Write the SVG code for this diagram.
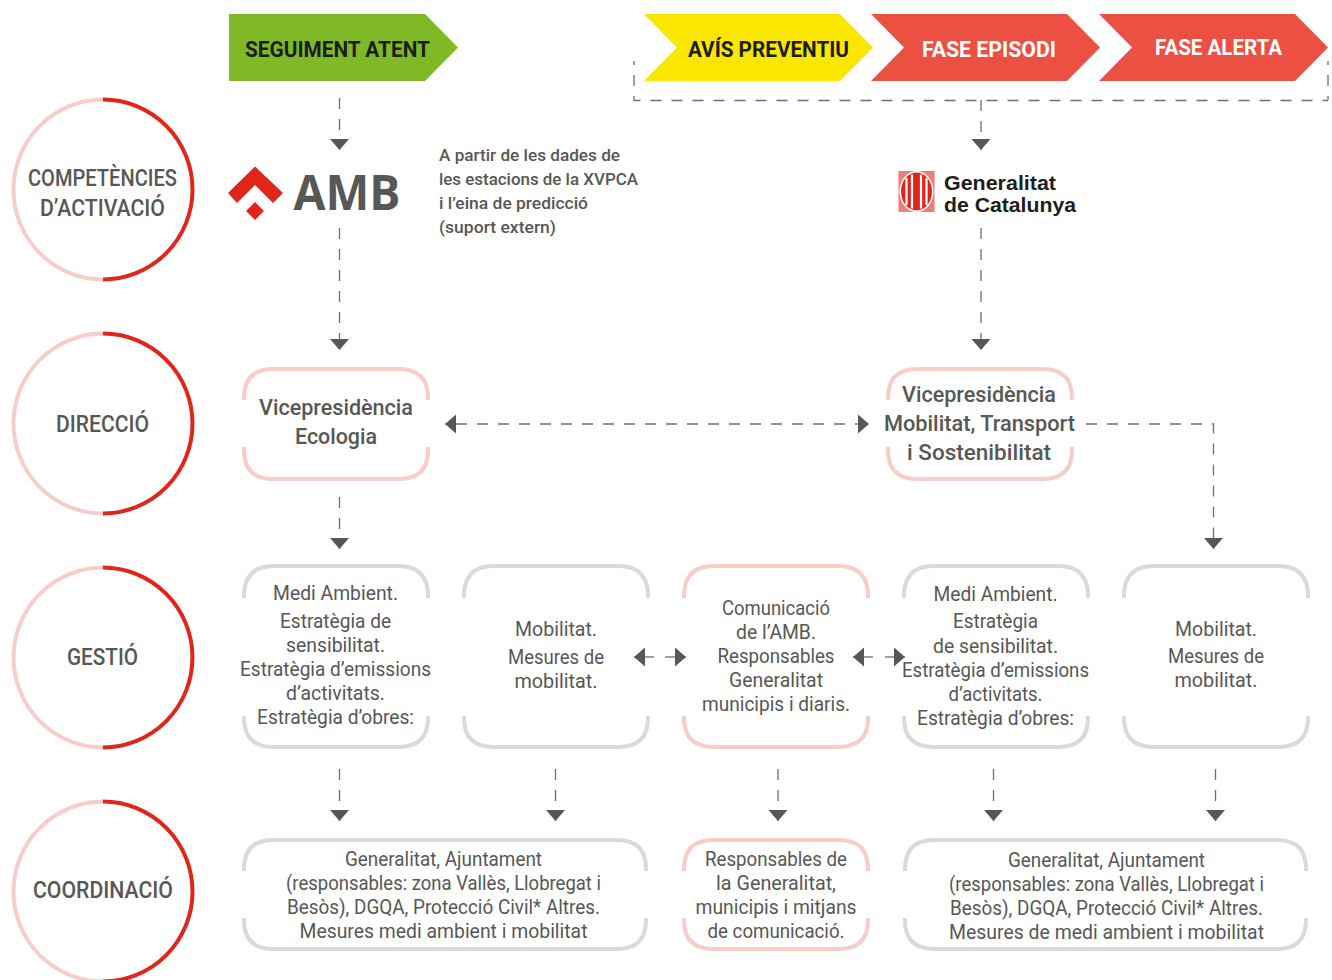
<svg xmlns="http://www.w3.org/2000/svg" width="1332" height="980" viewBox="0 0 1332 980">
<style>
text{font-family:Roboto,"Noto Sans",sans-serif;fill:#575756;text-anchor:middle}
.l{font-size:23px;font-weight:500}
.h{font-size:22.5px;font-weight:700;fill:#1d1d1b}
.w{fill:#fff}
.d{font-size:22px;font-weight:500}
.b{font-size:19.5px}
.c{font-size:19.5px}
.n{font-size:17px;font-weight:500;text-anchor:start}
.pink{fill:none;stroke:#f7cdc9;stroke-width:4}
.grey{fill:none;stroke:#dadada;stroke-width:4}
.red{fill:none;stroke:#e1251b;stroke-width:4}
.dash{fill:none;stroke:#6f6f6e;stroke-width:1.3;stroke-dasharray:11 10}
.solid{fill:none;stroke:#6f6f6e;stroke-width:1.3}
</style>
<defs>
<marker id="ah" markerUnits="userSpaceOnUse" markerWidth="20" markerHeight="20" viewBox="0 0 12 20" refX="11" refY="10" orient="auto"><path d="M0 .5 11 10 0 19.500z" fill="#575756"/></marker>
</defs>

<g id="head-seguiment"><path d="M229 14H425L458 47.500 425 81H229z" fill="#80b927"/><text class="h" x="337.500" y="57" textLength="185" lengthAdjust="spacingAndGlyphs">SEGUIMENT ATENT</text></g>
<g id="head-avis"><path d="M644 14H840L873 47.500 840 81H644L677 47.500z" fill="#fae600"/><text class="h" x="768.500" y="57" textLength="161" lengthAdjust="spacingAndGlyphs">AVÍS PREVENTIU</text></g>
<g id="head-episodi"><path d="M871 14H1067L1100 47.500 1067 81H871L904 47.500z" fill="#eb5043"/><text class="h w" x="989" y="57" textLength="134" lengthAdjust="spacingAndGlyphs">FASE EPISODI</text></g>
<g id="head-alerta"><path d="M1099 14H1295L1328 47.500 1295 81H1099L1132 47.500z" fill="#eb5043"/><text class="h w" x="1218.500" y="55" textLength="127" lengthAdjust="spacingAndGlyphs">FASE ALERTA</text></g>

<g id="connectors">
<path class="dash" style="stroke-dashoffset:7" d="M634 61V100.500H1328"/>
<path class="dash" style="stroke-dashoffset:7" d="M1328 61V100"/>
<path class="dash" d="M339.500 98V150" marker-end="url(#ah)"/>
<path class="dash" d="M981 100V150" marker-end="url(#ah)"/>
<path class="dash" d="M339.500 228V350" marker-end="url(#ah)"/>
<path class="dash" d="M981 228V350" marker-end="url(#ah)"/>
<path class="dash" d="M339.500 497V549" marker-end="url(#ah)"/>
<path class="dash" d="M456 424H445" marker-end="url(#ah)"/>
<path class="dash" d="M456 424H869" marker-end="url(#ah)"/>
<path class="dash" d="M1086 424H1213.500V549" marker-end="url(#ah)"/>
<path class="solid" d="M654 657H634" marker-end="url(#ah)"/>
<path class="solid" d="M665 657H686" marker-end="url(#ah)"/>
<path class="solid" d="M873 657H853" marker-end="url(#ah)"/>
<path class="solid" d="M885 657H905" marker-end="url(#ah)"/>
<path class="dash" d="M339.500 769V821" marker-end="url(#ah)"/>
<path class="dash" d="M555.500 769V821" marker-end="url(#ah)"/>
<path class="dash" d="M778 769V821" marker-end="url(#ah)"/>
<path class="dash" d="M993.500 769V821" marker-end="url(#ah)"/>
<path class="dash" d="M1215.500 769V821" marker-end="url(#ah)"/>
</g>

<g id="circle-competencies"><path class="pink" d="M103 99.500A89.500 90 0 0 0 103 279.500"/><path class="red" d="M103 99.500A89.500 90 0 0 1 103 279.500"/>
<text class="l" x="102.500" y="186" textLength="149" lengthAdjust="spacingAndGlyphs">COMPETÈNCIES</text><text class="l" x="102.500" y="216" textLength="125" lengthAdjust="spacingAndGlyphs">D’ACTIVACIÓ</text></g>
<g id="circle-direccio"><path class="pink" d="M103 333.500A89.500 90 0 0 0 103 513.500"/><path class="red" d="M103 333.500A89.500 90 0 0 1 103 513.500"/>
<text class="l" x="102.500" y="432" textLength="93" lengthAdjust="spacingAndGlyphs">DIRECCIÓ</text></g>
<g id="circle-gestio"><path class="pink" d="M103 567.500A89.500 90 0 0 0 103 747.500"/><path class="red" d="M103 567.500A89.500 90 0 0 1 103 747.500"/>
<text class="l" x="102.500" y="665" textLength="71" lengthAdjust="spacingAndGlyphs">GESTIÓ</text></g>
<g id="circle-coordinacio"><path class="pink" d="M103 801.500A89.500 90 0 0 0 103 981.500"/><path class="red" d="M103 801.500A89.500 90 0 0 1 103 981.500"/>
<text class="l" x="103" y="898" textLength="140" lengthAdjust="spacingAndGlyphs">COORDINACIÓ</text></g>

<g id="logo-amb">
<path d="M255 167.500 282 193 273 202 255 184 237 202 229 193z" fill="#e1251b" stroke="#e1251b" stroke-width="1.500" stroke-linejoin="round"/>
<path d="M255 202 264 211 255 220 246 211z" fill="#e1251b"/>
<text x="347" y="210" style="font-family:'Open Sans','Noto Sans',sans-serif;font-weight:700;font-size:49px" textLength="107" lengthAdjust="spacingAndGlyphs">AMB</text>
</g>
<g id="note-amb">
<text class="n" x="439" y="161" textLength="181" lengthAdjust="spacingAndGlyphs">A partir de les dades de</text>
<text class="n" x="439" y="185" textLength="199" lengthAdjust="spacingAndGlyphs">les estacions de la XVPCA</text>
<text class="n" x="439" y="209" textLength="149" lengthAdjust="spacingAndGlyphs">i l’eina de predicció</text>
<text class="n" x="439" y="233" textLength="117" lengthAdjust="spacingAndGlyphs">(suport extern)</text>
</g>
<g id="logo-generalitat">
<rect x="898.500" y="171" width="36" height="41" fill="#ee7f78"/>
<ellipse cx="916.500" cy="191.500" rx="17" ry="20.500" fill="#fff"/>
<ellipse cx="916.500" cy="191.500" rx="15.500" ry="19" fill="#e1251b"/>
<path d="M906.500 178V205M912 174.500V208.500M921 174.500V208.500M926.500 178V205" stroke="#fff" stroke-width="2.200" fill="none"/>
<text x="944" y="190" style="font-family:'Liberation Sans',Arial,sans-serif;font-weight:700;font-size:21px;text-anchor:start;fill:#1d1d1b" textLength="112" lengthAdjust="spacingAndGlyphs">Generalitat</text>
<text x="944" y="212" style="font-family:'Liberation Sans',Arial,sans-serif;font-weight:700;font-size:21px;text-anchor:start;fill:#1d1d1b" textLength="132" lengthAdjust="spacingAndGlyphs">de Catalunya</text>
</g>

<g id="dir-ecologia"><path class="pink" d="M244 400V398Q244 369 273 369H399Q428 369 428 398V400M244 447V450Q244 479 273 479H399Q428 479 428 450V447"/>
<text class="d" x="336" y="415" textLength="154" lengthAdjust="spacingAndGlyphs">Vicepresidència</text><text class="d" x="336" y="444" textLength="82" lengthAdjust="spacingAndGlyphs">Ecologia</text></g>
<g id="dir-mobilitat"><path class="pink" d="M888 400V398Q888 369 917 369H1043Q1072 369 1072 398V400M888 447V450Q888 479 917 479H1043Q1072 479 1072 450V447"/>
<text class="d" x="979" y="402" textLength="154" lengthAdjust="spacingAndGlyphs">Vicepresidència</text><text class="d" x="979.500" y="431" textLength="191" lengthAdjust="spacingAndGlyphs">Mobilitat, Transport</text><text class="d" x="979" y="460" textLength="144" lengthAdjust="spacingAndGlyphs">i Sostenibilitat</text></g>

<g id="ges-medi1"><path class="grey" d="M244 598V596Q244 566 274 566H398Q428 566 428 596V598M244 716V718Q244 747 274 747H398Q428 747 428 718V716"/>
<text class="b" x="335.500" y="600" textLength="125" lengthAdjust="spacingAndGlyphs">Medi Ambient.</text>
<text class="b" x="335.500" y="628" textLength="111" lengthAdjust="spacingAndGlyphs">Estratègia de</text>
<text class="b" x="335.500" y="652" textLength="99" lengthAdjust="spacingAndGlyphs">sensibilitat.</text>
<text class="b" x="335.500" y="676" textLength="191" lengthAdjust="spacingAndGlyphs">Estratègia d’emissions</text>
<text class="b" x="335.500" y="700" textLength="99" lengthAdjust="spacingAndGlyphs">d’activitats.</text>
<text class="b" x="335.500" y="724" textLength="157" lengthAdjust="spacingAndGlyphs">Estratègia d’obres:</text></g>
<g id="ges-mob1"><path class="grey" d="M464 598V596Q464 566 494 566H618Q648 566 648 596V598M464 716V718Q464 747 494 747H618Q648 747 648 718V716"/>
<text class="b" x="556" y="636" textLength="82" lengthAdjust="spacingAndGlyphs">Mobilitat.</text>
<text class="b" x="556" y="664" textLength="96" lengthAdjust="spacingAndGlyphs">Mesures de</text>
<text class="b" x="556" y="688" textLength="83" lengthAdjust="spacingAndGlyphs">mobilitat.</text></g>
<g id="ges-comunicacio"><path class="pink" d="M684 598V596Q684 566 714 566H838Q868 566 868 596V598M684 716V718Q684 747 714 747H838Q868 747 868 718V716"/>
<text class="b" x="776" y="615" textLength="108" lengthAdjust="spacingAndGlyphs">Comunicació</text>
<text class="b" x="776" y="639" textLength="80" lengthAdjust="spacingAndGlyphs">de l’AMB.</text>
<text class="b" x="776" y="663" textLength="117" lengthAdjust="spacingAndGlyphs">Responsables</text>
<text class="b" x="776" y="687" textLength="94" lengthAdjust="spacingAndGlyphs">Generalitat</text>
<text class="b" x="776" y="711" textLength="148" lengthAdjust="spacingAndGlyphs">municipis i diaris.</text></g>
<g id="ges-medi2"><path class="grey" d="M904 598V596Q904 566 934 566H1058Q1088 566 1088 596V598M904 716V718Q904 747 934 747H1058Q1088 747 1088 718V716"/>
<text class="b" x="995.500" y="601" textLength="124" lengthAdjust="spacingAndGlyphs">Medi Ambient.</text>
<text class="b" x="995.500" y="628" textLength="85" lengthAdjust="spacingAndGlyphs">Estratègia</text>
<text class="b" x="995.500" y="653" textLength="125" lengthAdjust="spacingAndGlyphs">de sensibilitat.</text>
<text class="b" x="995.500" y="677" textLength="187" lengthAdjust="spacingAndGlyphs">Estratègia d’emissions</text>
<text class="b" x="995.500" y="701" textLength="94" lengthAdjust="spacingAndGlyphs">d’activitats.</text>
<text class="b" x="995.500" y="725" textLength="157" lengthAdjust="spacingAndGlyphs">Estratègia d’obres:</text></g>
<g id="ges-mob2"><path class="grey" d="M1124 598V596Q1124 566 1154 566H1278Q1308 566 1308 596V598M1124 716V718Q1124 747 1154 747H1278Q1308 747 1308 718V716"/>
<text class="b" x="1216" y="636" textLength="82" lengthAdjust="spacingAndGlyphs">Mobilitat.</text>
<text class="b" x="1216" y="663" textLength="96" lengthAdjust="spacingAndGlyphs">Mesures de</text>
<text class="b" x="1216" y="687" textLength="83" lengthAdjust="spacingAndGlyphs">mobilitat.</text></g>

<g id="coo-1"><path class="grey" d="M244 871V869Q244 840 273 840H617Q646 840 646 869V871M244 918V920Q244 949 273 949H617Q646 949 646 920V918"/>
<text class="c" x="443.500" y="866" textLength="197" lengthAdjust="spacingAndGlyphs">Generalitat, Ajuntament</text>
<text class="c" x="443.500" y="890" textLength="315" lengthAdjust="spacingAndGlyphs">(responsables: zona Vallès, Llobregat i</text>
<text class="c" x="443.500" y="914" textLength="313" lengthAdjust="spacingAndGlyphs">Besòs), DGQA, Protecció Civil* Altres.</text>
<text class="c" x="443.500" y="938" textLength="288" lengthAdjust="spacingAndGlyphs">Mesures medi ambient i mobilitat</text></g>
<g id="coo-2"><path class="pink" d="M684 871V869Q684 840 713 840H839Q868 840 868 869V871M684 918V920Q684 949 713 949H839Q868 949 868 920V918"/>
<text class="c" x="776" y="866" textLength="142" lengthAdjust="spacingAndGlyphs">Responsables de</text>
<text class="c" x="776" y="890" textLength="120" lengthAdjust="spacingAndGlyphs">la Generalitat,</text>
<text class="c" x="776" y="914" textLength="161" lengthAdjust="spacingAndGlyphs">municipis i mitjans</text>
<text class="c" x="776" y="938" textLength="137" lengthAdjust="spacingAndGlyphs">de comunicació.</text></g>
<g id="coo-3"><path class="grey" d="M905 871V869Q905 840 934 840H1277Q1306 840 1306 869V871M905 918V920Q905 949 934 949H1277Q1306 949 1306 920V918"/>
<text class="c" x="1106.500" y="867" textLength="197" lengthAdjust="spacingAndGlyphs">Generalitat, Ajuntament</text>
<text class="c" x="1106.500" y="891" textLength="315" lengthAdjust="spacingAndGlyphs">(responsables: zona Vallès, Llobregat i</text>
<text class="c" x="1106.500" y="915" textLength="313" lengthAdjust="spacingAndGlyphs">Besòs), DGQA, Protecció Civil* Altres.</text>
<text class="c" x="1106.500" y="939" textLength="315" lengthAdjust="spacingAndGlyphs">Mesures de medi ambient i mobilitat</text></g>
</svg>
